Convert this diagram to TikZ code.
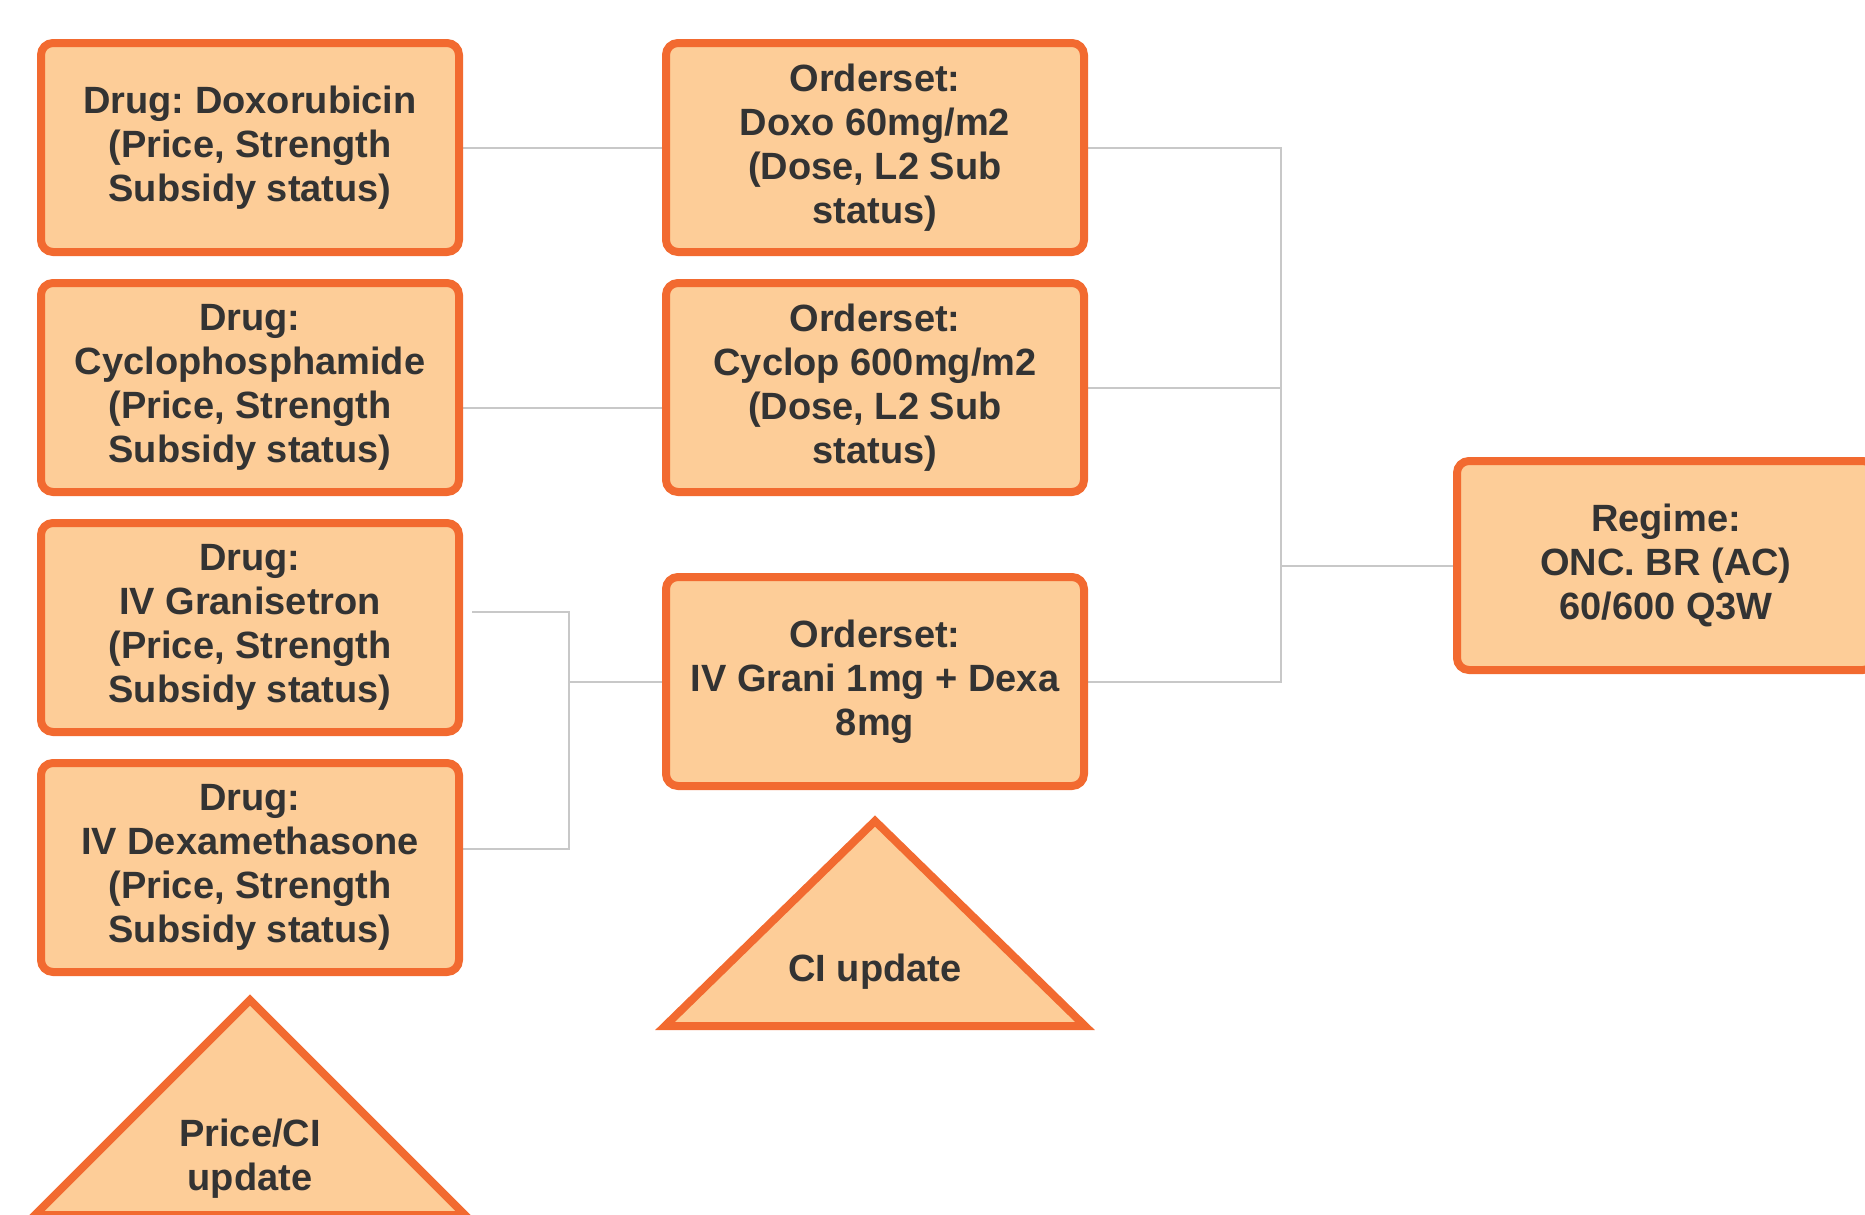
\documentclass[tikz,border=0pt]{standalone}
\usepackage{fontspec}
\setmainfont{Liberation Sans}
\usetikzlibrary{positioning,backgrounds}
\definecolor{boxfill}{HTML}{FDCD98}
\definecolor{boxline}{HTML}{F26A30}
\definecolor{textgray}{HTML}{333333}
\definecolor{linkgray}{HTML}{C8C8C8}
\frenchspacing

\begin{document}
\begin{tikzpicture}[x=0.5pt, y=-0.5pt, node distance=11.5pt,
  main node/.style={rectangle, rounded corners=6pt, draw=boxline, line width=4pt, fill=boxfill, text=textgray, align=center, minimum width=209pt, minimum height=104.5pt, inner sep=0pt, font=\fontsize{19}{22}\selectfont\bfseries},
  flag/.style={draw=boxline, line width=4pt, fill=boxfill},
  flag text/.style={text=textgray, align=center, font=\fontsize{19}{22}\selectfont\bfseries},
  link/.style={draw=linkgray, line width=1pt}]
  \useasboundingbox (0,0) rectangle (1865,1215);

  % drugs
  \node[main node] (doxo) at (250,147.5) {Drug: Doxorubicin\\(Price, Strength\\Subsidy status)};
  \node[main node] (cyclo) [below=of doxo] {Drug:\\Cyclophosphamide\\(Price, Strength\\Subsidy status)};
  \node[main node] (grani) [below=of cyclo] {Drug:\\IV Granisetron\\(Price, Strength\\Subsidy status)};
  \node[main node] (dexa) [below=of grani] {Drug:\\IV Dexamethasone\\(Price, Strength\\Subsidy status)};

  % ordersets
  \node[main node] (os doxo) [right=99.5pt of doxo] {Orderset:\\Doxo 60mg/m2\\(Dose, L2 Sub\\status)};
  \node[main node] (os cyclo) [right=99.5pt of cyclo] {Orderset:\\Cyclop 600mg/m2\\(Dose, L2 Sub\\status)};
  \node[main node] (os anti) [below=38.5pt of os cyclo] {Orderset:\\IV Grani 1mg + Dexa\\8mg};

  \node[main node] (regime) at (1666,565.5) {Regime:\\ONC. BR (AC)\\60/600 Q3W};

  % update flags
  \coordinate (price apex) at ([yshift=-12pt]dexa.south);
  \coordinate (ci apex) at ([yshift=-15.5pt]os anti.south);
  \draw[flag] (price apex) -- ++(-215,215) -- ++(430,0) -- cycle;
  \draw[flag] (ci apex) -- ++(-210,205) -- ++(420,0) -- cycle;
  \node[flag text] (price text) at ([yshift=-79.5pt]price apex) {Price/CI\\update};
  \node[flag text] (ci text) at ([yshift=-75.5pt]ci apex) {CI update};

  \coordinate (ljoin) at ([xshift=-46.5pt]os anti.west);
  \coordinate (rjoin) at (1281,565.5);

  \begin{scope}[on background layer]
    \draw[link] (doxo.east) -- (os doxo.west);
    \draw[link] ([yshift=-10pt]cyclo.east) -- ([yshift=-10pt]os cyclo.west);
    \draw[link] ([xshift=4.5pt,yshift=8pt]grani.east) -| (ljoin) |- ([yshift=9.5pt]dexa.east);
    \draw[link] (ljoin) -- (os anti.west);
    \draw[link] (os doxo.east) -| (rjoin);
    \draw[link] (os cyclo.east) -| (rjoin);
    \draw[link] (os anti.east) -| (rjoin);
    \draw[link] (rjoin) -- (regime.west);
  \end{scope}
\end{tikzpicture}
\end{document}
